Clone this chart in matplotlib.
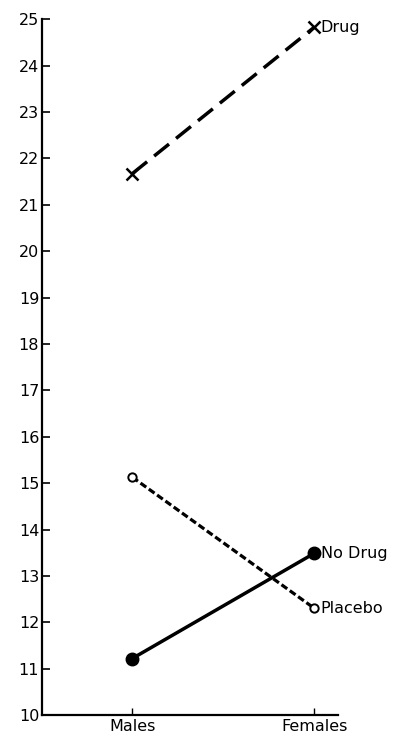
import numpy as np
import matplotlib.pyplot as plt

groups = ["Males", "Females"]
drug = [21.67, 24.83]
placebo = [15.13, 12.3]
no_drug = [11.22, 13.49]
yticks = list(range(10, 26))

fig = plt.figure(figsize=(4.04, 7.38), dpi=100)
ax = fig.add_axes([0.104, 0.031, 0.733, 0.943])

x = np.arange(len(groups))
ax.plot(x, drug, color='black', lw=2.5, dashes=(5.5, 2.6), marker='x', ms=9, mew=1.8)
ax.plot(x, placebo, color='black', lw=2.3, dashes=(2.2, 1), marker='o', ms=6,
        mfc='white', mew=1.4)
ax.plot(x, no_drug, color='black', lw=2.5, marker='o', ms=9)

ax.text(x[1] + 0.035, drug[1], "Drug", va='center', ha='left', fontsize=11.5)
ax.text(x[1] + 0.035, no_drug[1], "No Drug", va='center', ha='left', fontsize=11.5)
ax.text(x[1] + 0.035, placebo[1], "Placebo", va='center', ha='left', fontsize=11.5)

ax.set_xlim(-0.495, 1.13)
ax.set_ylim(10, 25)
ax.set_yticks(yticks)
ax.set_xticks(x)
ax.set_xticklabels(groups)
ax.tick_params(axis='y', direction='in', length=6, width=1.2, labelsize=11.5, pad=2)
ax.tick_params(axis='x', direction='in', length=5, width=1, labelsize=11.5, pad=3)
ax.spines['top'].set_visible(False)
ax.spines['right'].set_visible(False)
ax.spines['left'].set_linewidth(1.6)
ax.spines['bottom'].set_linewidth(1.6)

fig.savefig("out.png", dpi=100)
